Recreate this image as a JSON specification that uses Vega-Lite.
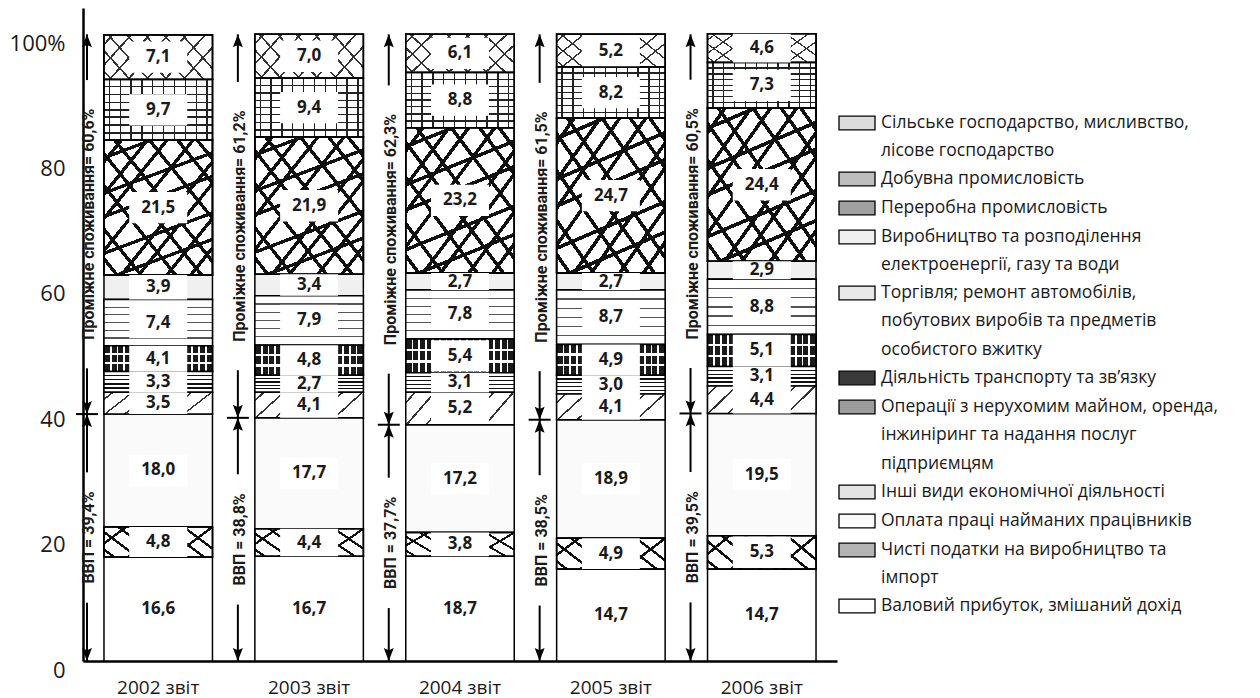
{
  "$schema": "https://vega.github.io/schema/vega-lite/v6.json",
  "width": 754,
  "height": 653,
  "autosize": {"type": "none"},
  "padding": {"left": 83, "top": 8, "right": 423, "bottom": 37},
  "background": "white",
  "config": {
    "view": {"stroke": null},
    "font": "Open Sans",
    "lineBreak": "\n",
    "style": {"guide-label": {"lineHeight": 28.4}}
  },
  "datasets": {
    "cats": [
      {"k": 0, "cat": "Сільське господарство, мисливство,\nлісове господарство"},
      {"k": 1, "cat": "Добувна промисловість"},
      {"k": 2, "cat": "Переробна промисловість"},
      {"k": 3, "cat": "Виробництво та розподілення\nелектроенергії, газу  та води"},
      {"k": 4, "cat": "Торгівля; ремонт автомобілів,\nпобутових виробів та предметів\nособистого вжитку"},
      {"k": 5, "cat": "Діяльність транспорту та зв’язку"},
      {"k": 6, "cat": "Операції з нерухомим майном, оренда,\nінжиніринг та надання послуг\nпідприємцям"},
      {"k": 7, "cat": "Інші види економічної діяльності"},
      {"k": 8, "cat": "Оплата праці найманих працівників"},
      {"k": 9, "cat": "Чисті податки на виробництво та\nімпорт"},
      {"k": 10, "cat": "Валовий прибуток, змішаний дохід"}
    ],
    "d": [
      {"year": "2002 звіт", "k": 0, "v": 7.1, "label": "7,1"},
      {"year": "2002 звіт", "k": 1, "v": 9.7, "label": "9,7"},
      {"year": "2002 звіт", "k": 2, "v": 21.5, "label": "21,5"},
      {"year": "2002 звіт", "k": 3, "v": 3.9, "label": "3,9"},
      {"year": "2002 звіт", "k": 4, "v": 7.4, "label": "7,4"},
      {"year": "2002 звіт", "k": 5, "v": 4.1, "label": "4,1"},
      {"year": "2002 звіт", "k": 6, "v": 3.3, "label": "3,3"},
      {"year": "2002 звіт", "k": 7, "v": 3.5, "label": "3,5"},
      {"year": "2002 звіт", "k": 8, "v": 18.0, "label": "18,0"},
      {"year": "2002 звіт", "k": 9, "v": 4.8, "label": "4,8"},
      {"year": "2002 звіт", "k": 10, "v": 16.6, "label": "16,6"},
      {"year": "2003 звіт", "k": 0, "v": 7.0, "label": "7,0"},
      {"year": "2003 звіт", "k": 1, "v": 9.4, "label": "9,4"},
      {"year": "2003 звіт", "k": 2, "v": 21.9, "label": "21,9"},
      {"year": "2003 звіт", "k": 3, "v": 3.4, "label": "3,4"},
      {"year": "2003 звіт", "k": 4, "v": 7.9, "label": "7,9"},
      {"year": "2003 звіт", "k": 5, "v": 4.8, "label": "4,8"},
      {"year": "2003 звіт", "k": 6, "v": 2.7, "label": "2,7"},
      {"year": "2003 звіт", "k": 7, "v": 4.1, "label": "4,1"},
      {"year": "2003 звіт", "k": 8, "v": 17.7, "label": "17,7"},
      {"year": "2003 звіт", "k": 9, "v": 4.4, "label": "4,4"},
      {"year": "2003 звіт", "k": 10, "v": 16.7, "label": "16,7"},
      {"year": "2004 звіт", "k": 0, "v": 6.1, "label": "6,1"},
      {"year": "2004 звіт", "k": 1, "v": 8.8, "label": "8,8"},
      {"year": "2004 звіт", "k": 2, "v": 23.2, "label": "23,2"},
      {"year": "2004 звіт", "k": 3, "v": 2.7, "label": "2,7"},
      {"year": "2004 звіт", "k": 4, "v": 7.8, "label": "7,8"},
      {"year": "2004 звіт", "k": 5, "v": 5.4, "label": "5,4"},
      {"year": "2004 звіт", "k": 6, "v": 3.1, "label": "3,1"},
      {"year": "2004 звіт", "k": 7, "v": 5.2, "label": "5,2"},
      {"year": "2004 звіт", "k": 8, "v": 17.2, "label": "17,2"},
      {"year": "2004 звіт", "k": 9, "v": 3.8, "label": "3,8"},
      {"year": "2004 звіт", "k": 10, "v": 16.7, "label": "18,7"},
      {"year": "2005 звіт", "k": 0, "v": 5.2, "label": "5,2"},
      {"year": "2005 звіт", "k": 1, "v": 8.2, "label": "8,2"},
      {"year": "2005 звіт", "k": 2, "v": 24.7, "label": "24,7"},
      {"year": "2005 звіт", "k": 3, "v": 2.7, "label": "2,7"},
      {"year": "2005 звіт", "k": 4, "v": 8.7, "label": "8,7"},
      {"year": "2005 звіт", "k": 5, "v": 4.9, "label": "4,9"},
      {"year": "2005 звіт", "k": 6, "v": 3.0, "label": "3,0"},
      {"year": "2005 звіт", "k": 7, "v": 4.1, "label": "4,1"},
      {"year": "2005 звіт", "k": 8, "v": 18.9, "label": "18,9"},
      {"year": "2005 звіт", "k": 9, "v": 4.9, "label": "4,9"},
      {"year": "2005 звіт", "k": 10, "v": 14.7, "label": "14,7"},
      {"year": "2006 звіт", "k": 0, "v": 4.6, "label": "4,6"},
      {"year": "2006 звіт", "k": 1, "v": 7.3, "label": "7,3"},
      {"year": "2006 звіт", "k": 2, "v": 24.4, "label": "24,4"},
      {"year": "2006 звіт", "k": 3, "v": 2.9, "label": "2,9"},
      {"year": "2006 звіт", "k": 4, "v": 8.8, "label": "8,8"},
      {"year": "2006 звіт", "k": 5, "v": 5.1, "label": "5,1"},
      {"year": "2006 звіт", "k": 6, "v": 3.1, "label": "3,1"},
      {"year": "2006 звіт", "k": 7, "v": 4.4, "label": "4,4"},
      {"year": "2006 звіт", "k": 8, "v": 19.5, "label": "19,5"},
      {"year": "2006 звіт", "k": 9, "v": 5.3, "label": "5,3"},
      {"year": "2006 звіт", "k": 10, "v": 14.7, "label": "14,7"}
    ],
    "ann": [
      {"year": "2002 звіт", "gdp": 39.4, "gdpText": "ВВП = 39,4%", "icText": "Проміжне споживання= 60,6%"},
      {"year": "2003 звіт", "gdp": 38.8, "gdpText": "ВВП = 38,8%", "icText": "Проміжне споживання= 61,2%"},
      {"year": "2004 звіт", "gdp": 37.7, "gdpText": "ВВП = 37,7%", "icText": "Проміжне споживання= 62,3%"},
      {"year": "2005 звіт", "gdp": 38.5, "gdpText": "ВВП = 38,5%", "icText": "Проміжне споживання= 61,5%"},
      {"year": "2006 звіт", "gdp": 39.5, "gdpText": "ВВП = 39,5%", "icText": "Проміжне споживання= 60,5%"}
    ]
  },
  "layer": [
    {
      "data": {"name": "d"},
      "transform": [
        {"lookup": "k", "from": {"data": {"name": "cats"}, "key": "k", "fields": ["cat"]}},
        {"stack": "v", "groupby": ["year"], "sort": [{"field": "k", "order": "descending"}], "as": ["y0", "y1"]},
        {"calculate": "(datum.y0 + datum.y1) / 2", "as": "mid"},
        {"calculate": "max(datum.y0, datum.mid - 2.5)", "as": "b0"},
        {"calculate": "min(datum.y1, datum.mid + 2.5)", "as": "b1"}
      ],
      "encoding": {
        "x": {
          "field": "year", "type": "nominal",
          "scale": {"paddingInner": 0.281, "paddingOuter": 0.139},
          "axis": {"title": null, "ticks": false, "labelAngle": 0, "domainColor": "#000", "domainWidth": 2.5, "labelFont": "Open Sans", "labelFontSize": 19, "labelColor": "#1a1a1a", "labelPadding": 17}
        }
      },
      "layer": [
        {
          "mark": {"type": "bar", "stroke": "#000", "strokeWidth": 1.5},
          "encoding": {
            "y": {
              "field": "y1", "type": "quantitative",
              "scale": {"domain": [0, 104.2], "nice": false, "zero": true},
              "axis": {"title": null, "values": [0, 20, 40, 60, 80, 100], "labelExpr": "datum.value == 100 ? '100%' : datum.label", "ticks": false, "grid": false, "domainColor": "#000", "domainWidth": 2.5, "labelFont": "Open Sans", "labelFontSize": 22, "labelColor": "#1a1a1a", "labelPadding": 18, "labelBaseline": "middle", "labelOffset": 9, "labelFlush": false}
            },
            "y2": {"field": "y0"},
            "fill": {
              "field": "cat", "type": "nominal",
              "sort": {"field": "k", "op": "min", "order": "ascending"},
              "scale": {"range": ["#dcdcdc", "#bdbdbd", "#a0a0a0", "#f0f0f0", "#e8e8e8", "#3a3a3a", "#9c9c9c", "#e4e4e4", "#fafafa", "#b4b4b4", "#ffffff"]},
              "legend": {
                "orient": "none", "legendX": 755, "legendY": 96, "title": null,
                "symbolType": "M-1,-0.38L1,-0.38L1,0.38L-1,0.38Z", "symbolSize": 1296,
                "symbolStrokeColor": "#000", "symbolStrokeWidth": 1.3,
                "labelFont": "Open Sans", "labelFontSize": 17.5, "labelColor": "#1a1a1a",
                "labelLimit": 500, "labelOffset": 5, "rowPadding": -0.9, "labelBaseline": "middle"
              }
            }
          }
        },
        {
          "transform": [{"filter": "datum.k == 0"}],
          "mark": {"type": "bar", "stroke": "#000", "strokeWidth": 1.5, "fill": {"gradient": "linear", "x1": 0, "y1": 1, "x2": 1, "y2": 0.63, "stops": [
            {"offset": 0, "color": "#fff"},
            {"offset": 0.051, "color": "#fff"}, {"offset": 0.051, "color": "#333"}, {"offset": 0.069, "color": "#333"}, {"offset": 0.069, "color": "#fff"},
            {"offset": 0.201, "color": "#fff"}, {"offset": 0.201, "color": "#333"}, {"offset": 0.219, "color": "#333"}, {"offset": 0.219, "color": "#fff"},
            {"offset": 0.351, "color": "#fff"}, {"offset": 0.351, "color": "#333"}, {"offset": 0.369, "color": "#333"}, {"offset": 0.369, "color": "#fff"},
            {"offset": 0.501, "color": "#fff"}, {"offset": 0.501, "color": "#333"}, {"offset": 0.519, "color": "#333"}, {"offset": 0.519, "color": "#fff"},
            {"offset": 0.651, "color": "#fff"}, {"offset": 0.651, "color": "#333"}, {"offset": 0.669, "color": "#333"}, {"offset": 0.669, "color": "#fff"},
            {"offset": 0.801, "color": "#fff"}, {"offset": 0.801, "color": "#333"}, {"offset": 0.819, "color": "#333"}, {"offset": 0.819, "color": "#fff"},
            {"offset": 0.951, "color": "#fff"}, {"offset": 0.951, "color": "#333"}, {"offset": 0.969, "color": "#333"}, {"offset": 0.969, "color": "#fff"},
            {"offset": 1, "color": "#fff"}
          ]}},
          "encoding": {"y": {"field": "y1", "type": "quantitative"}, "y2": {"field": "y0"}}
        },
        {
          "transform": [{"filter": "datum.k == 0"}],
          "mark": {"type": "bar", "stroke": "#000", "strokeWidth": 1.5, "fill": {"gradient": "linear", "x1": 0, "y1": 0, "x2": 1, "y2": 0.37, "stops": [
            {"offset": 0, "color": "rgba(255,255,255,0)"},
            {"offset": 0.061, "color": "rgba(255,255,255,0)"}, {"offset": 0.061, "color": "#333"}, {"offset": 0.079, "color": "#333"}, {"offset": 0.079, "color": "rgba(255,255,255,0)"},
            {"offset": 0.211, "color": "rgba(255,255,255,0)"}, {"offset": 0.211, "color": "#333"}, {"offset": 0.229, "color": "#333"}, {"offset": 0.229, "color": "rgba(255,255,255,0)"},
            {"offset": 0.361, "color": "rgba(255,255,255,0)"}, {"offset": 0.361, "color": "#333"}, {"offset": 0.379, "color": "#333"}, {"offset": 0.379, "color": "rgba(255,255,255,0)"},
            {"offset": 0.511, "color": "rgba(255,255,255,0)"}, {"offset": 0.511, "color": "#333"}, {"offset": 0.529, "color": "#333"}, {"offset": 0.529, "color": "rgba(255,255,255,0)"},
            {"offset": 0.661, "color": "rgba(255,255,255,0)"}, {"offset": 0.661, "color": "#333"}, {"offset": 0.679, "color": "#333"}, {"offset": 0.679, "color": "rgba(255,255,255,0)"},
            {"offset": 0.811, "color": "rgba(255,255,255,0)"}, {"offset": 0.811, "color": "#333"}, {"offset": 0.829, "color": "#333"}, {"offset": 0.829, "color": "rgba(255,255,255,0)"},
            {"offset": 0.961, "color": "rgba(255,255,255,0)"}, {"offset": 0.961, "color": "#333"}, {"offset": 0.979, "color": "#333"}, {"offset": 0.979, "color": "rgba(255,255,255,0)"},
            {"offset": 1, "color": "rgba(255,255,255,0)"}
          ]}},
          "encoding": {"y": {"field": "y1", "type": "quantitative"}, "y2": {"field": "y0"}}
        },
        {
          "transform": [{"filter": "datum.k == 1"}],
          "mark": {"type": "bar", "stroke": "#000", "strokeWidth": 1.5, "fill": {"gradient": "linear", "x1": 0, "y1": 0, "x2": 0, "y2": 1, "stops": [
            {"offset": 0, "color": "#fff"},
            {"offset": 0.108, "color": "#fff"}, {"offset": 0.108, "color": "#222"}, {"offset": 0.132, "color": "#222"}, {"offset": 0.132, "color": "#fff"},
            {"offset": 0.238, "color": "#fff"}, {"offset": 0.238, "color": "#222"}, {"offset": 0.262, "color": "#222"}, {"offset": 0.262, "color": "#fff"},
            {"offset": 0.368, "color": "#fff"}, {"offset": 0.368, "color": "#222"}, {"offset": 0.392, "color": "#222"}, {"offset": 0.392, "color": "#fff"},
            {"offset": 0.488, "color": "#fff"}, {"offset": 0.488, "color": "#222"}, {"offset": 0.512, "color": "#222"}, {"offset": 0.512, "color": "#fff"},
            {"offset": 0.608, "color": "#fff"}, {"offset": 0.608, "color": "#222"}, {"offset": 0.632, "color": "#222"}, {"offset": 0.632, "color": "#fff"},
            {"offset": 0.738, "color": "#fff"}, {"offset": 0.738, "color": "#222"}, {"offset": 0.762, "color": "#222"}, {"offset": 0.762, "color": "#fff"},
            {"offset": 0.868, "color": "#fff"}, {"offset": 0.868, "color": "#222"}, {"offset": 0.892, "color": "#222"}, {"offset": 0.892, "color": "#fff"},
            {"offset": 1, "color": "#fff"}
          ]}},
          "encoding": {"y": {"field": "y1", "type": "quantitative"}, "y2": {"field": "y0"}}
        },
        {
          "transform": [{"filter": "datum.k == 1"}],
          "mark": {"type": "bar", "stroke": "#000", "strokeWidth": 1.5, "fill": {"gradient": "linear", "x1": 0, "y1": 0, "x2": 1, "y2": 0, "stops": [
            {"offset": 0, "color": "rgba(255,255,255,0)"},
            {"offset": 0.044, "color": "rgba(255,255,255,0)"}, {"offset": 0.044, "color": "#222"}, {"offset": 0.056, "color": "#222"}, {"offset": 0.056, "color": "rgba(255,255,255,0)"},
            {"offset": 0.144, "color": "rgba(255,255,255,0)"}, {"offset": 0.144, "color": "#222"}, {"offset": 0.156, "color": "#222"}, {"offset": 0.156, "color": "rgba(255,255,255,0)"},
            {"offset": 0.244, "color": "rgba(255,255,255,0)"}, {"offset": 0.244, "color": "#222"}, {"offset": 0.256, "color": "#222"}, {"offset": 0.256, "color": "rgba(255,255,255,0)"},
            {"offset": 0.344, "color": "rgba(255,255,255,0)"}, {"offset": 0.344, "color": "#222"}, {"offset": 0.356, "color": "#222"}, {"offset": 0.356, "color": "rgba(255,255,255,0)"},
            {"offset": 0.444, "color": "rgba(255,255,255,0)"}, {"offset": 0.444, "color": "#222"}, {"offset": 0.456, "color": "#222"}, {"offset": 0.456, "color": "rgba(255,255,255,0)"},
            {"offset": 0.544, "color": "rgba(255,255,255,0)"}, {"offset": 0.544, "color": "#222"}, {"offset": 0.556, "color": "#222"}, {"offset": 0.556, "color": "rgba(255,255,255,0)"},
            {"offset": 0.644, "color": "rgba(255,255,255,0)"}, {"offset": 0.644, "color": "#222"}, {"offset": 0.656, "color": "#222"}, {"offset": 0.656, "color": "rgba(255,255,255,0)"},
            {"offset": 0.744, "color": "rgba(255,255,255,0)"}, {"offset": 0.744, "color": "#222"}, {"offset": 0.756, "color": "#222"}, {"offset": 0.756, "color": "rgba(255,255,255,0)"},
            {"offset": 0.844, "color": "rgba(255,255,255,0)"}, {"offset": 0.844, "color": "#222"}, {"offset": 0.856, "color": "#222"}, {"offset": 0.856, "color": "rgba(255,255,255,0)"},
            {"offset": 0.944, "color": "rgba(255,255,255,0)"}, {"offset": 0.944, "color": "#222"}, {"offset": 0.956, "color": "#222"}, {"offset": 0.956, "color": "rgba(255,255,255,0)"},
            {"offset": 1, "color": "rgba(255,255,255,0)"}
          ]}},
          "encoding": {"y": {"field": "y1", "type": "quantitative"}, "y2": {"field": "y0"}}
        },
        {
          "transform": [{"filter": "datum.k == 2"}],
          "mark": {"type": "bar", "stroke": "#000", "strokeWidth": 1.5, "fill": {"gradient": "linear", "x1": 0, "y1": 1, "x2": 1, "y2": 0, "stops": [
            {"offset": 0, "color": "#fff"},
            {"offset": 0.05, "color": "#fff"}, {"offset": 0.05, "color": "#111"}, {"offset": 0.07, "color": "#111"}, {"offset": 0.07, "color": "#fff"},
            {"offset": 0.16, "color": "#fff"}, {"offset": 0.16, "color": "#111"}, {"offset": 0.18, "color": "#111"}, {"offset": 0.18, "color": "#fff"},
            {"offset": 0.32, "color": "#fff"}, {"offset": 0.32, "color": "#111"}, {"offset": 0.34, "color": "#111"}, {"offset": 0.34, "color": "#fff"},
            {"offset": 0.44, "color": "#fff"}, {"offset": 0.44, "color": "#111"}, {"offset": 0.46, "color": "#111"}, {"offset": 0.46, "color": "#fff"},
            {"offset": 0.54, "color": "#fff"}, {"offset": 0.54, "color": "#111"}, {"offset": 0.56, "color": "#111"}, {"offset": 0.56, "color": "#fff"},
            {"offset": 0.70, "color": "#fff"}, {"offset": 0.70, "color": "#111"}, {"offset": 0.72, "color": "#111"}, {"offset": 0.72, "color": "#fff"},
            {"offset": 0.83, "color": "#fff"}, {"offset": 0.83, "color": "#111"}, {"offset": 0.85, "color": "#111"}, {"offset": 0.85, "color": "#fff"},
            {"offset": 0.92, "color": "#fff"}, {"offset": 0.92, "color": "#111"}, {"offset": 0.94, "color": "#111"}, {"offset": 0.94, "color": "#fff"},
            {"offset": 1, "color": "#fff"}
          ]}},
          "encoding": {"y": {"field": "y1", "type": "quantitative"}, "y2": {"field": "y0"}}
        },
        {
          "transform": [{"filter": "datum.k == 2"}],
          "mark": {"type": "bar", "stroke": "#000", "strokeWidth": 1.5, "fill": {"gradient": "linear", "x1": 0, "y1": 0, "x2": 1, "y2": 1, "stops": [
            {"offset": 0, "color": "rgba(255,255,255,0)"},
            {"offset": 0.07, "color": "rgba(255,255,255,0)"}, {"offset": 0.07, "color": "#111"}, {"offset": 0.09, "color": "#111"}, {"offset": 0.09, "color": "rgba(255,255,255,0)"},
            {"offset": 0.19, "color": "rgba(255,255,255,0)"}, {"offset": 0.19, "color": "#111"}, {"offset": 0.21, "color": "#111"}, {"offset": 0.21, "color": "rgba(255,255,255,0)"},
            {"offset": 0.28, "color": "rgba(255,255,255,0)"}, {"offset": 0.28, "color": "#111"}, {"offset": 0.30, "color": "#111"}, {"offset": 0.30, "color": "rgba(255,255,255,0)"},
            {"offset": 0.40, "color": "rgba(255,255,255,0)"}, {"offset": 0.40, "color": "#111"}, {"offset": 0.42, "color": "#111"}, {"offset": 0.42, "color": "rgba(255,255,255,0)"},
            {"offset": 0.57, "color": "rgba(255,255,255,0)"}, {"offset": 0.57, "color": "#111"}, {"offset": 0.59, "color": "#111"}, {"offset": 0.59, "color": "rgba(255,255,255,0)"},
            {"offset": 0.65, "color": "rgba(255,255,255,0)"}, {"offset": 0.65, "color": "#111"}, {"offset": 0.67, "color": "#111"}, {"offset": 0.67, "color": "rgba(255,255,255,0)"},
            {"offset": 0.78, "color": "rgba(255,255,255,0)"}, {"offset": 0.78, "color": "#111"}, {"offset": 0.80, "color": "#111"}, {"offset": 0.80, "color": "rgba(255,255,255,0)"},
            {"offset": 0.89, "color": "rgba(255,255,255,0)"}, {"offset": 0.89, "color": "#111"}, {"offset": 0.91, "color": "#111"}, {"offset": 0.91, "color": "rgba(255,255,255,0)"},
            {"offset": 1, "color": "rgba(255,255,255,0)"}
          ]}},
          "encoding": {"y": {"field": "y1", "type": "quantitative"}, "y2": {"field": "y0"}}
        },
        {
          "transform": [{"filter": "datum.k == 2"}],
          "mark": {"type": "bar", "stroke": "#000", "strokeWidth": 1.5, "fill": {"gradient": "linear", "x1": 0, "y1": 0, "x2": 0.3, "y2": 1, "stops": [
            {"offset": 0, "color": "rgba(255,255,255,0)"},
            {"offset": 0.108, "color": "rgba(255,255,255,0)"}, {"offset": 0.108, "color": "#111"}, {"offset": 0.132, "color": "#111"}, {"offset": 0.132, "color": "rgba(255,255,255,0)"},
            {"offset": 0.348, "color": "rgba(255,255,255,0)"}, {"offset": 0.348, "color": "#111"}, {"offset": 0.372, "color": "#111"}, {"offset": 0.372, "color": "rgba(255,255,255,0)"},
            {"offset": 0.508, "color": "rgba(255,255,255,0)"}, {"offset": 0.508, "color": "#111"}, {"offset": 0.532, "color": "#111"}, {"offset": 0.532, "color": "rgba(255,255,255,0)"},
            {"offset": 0.758, "color": "rgba(255,255,255,0)"}, {"offset": 0.758, "color": "#111"}, {"offset": 0.782, "color": "#111"}, {"offset": 0.782, "color": "rgba(255,255,255,0)"},
            {"offset": 0.938, "color": "rgba(255,255,255,0)"}, {"offset": 0.938, "color": "#111"}, {"offset": 0.962, "color": "#111"}, {"offset": 0.962, "color": "rgba(255,255,255,0)"},
            {"offset": 1, "color": "rgba(255,255,255,0)"}
          ]}},
          "encoding": {"y": {"field": "y1", "type": "quantitative"}, "y2": {"field": "y0"}}
        },
        {
          "transform": [{"filter": "datum.k == 4"}],
          "mark": {"type": "bar", "stroke": "#000", "strokeWidth": 1.5, "fill": {"gradient": "linear", "x1": 0, "y1": 0, "x2": 0, "y2": 1, "stops": [
            {"offset": 0, "color": "#fff"},
            {"offset": 0.155, "color": "#fff"}, {"offset": 0.155, "color": "#555"}, {"offset": 0.179, "color": "#555"}, {"offset": 0.179, "color": "#fff"},
            {"offset": 0.321, "color": "#fff"}, {"offset": 0.321, "color": "#555"}, {"offset": 0.345, "color": "#555"}, {"offset": 0.345, "color": "#fff"},
            {"offset": 0.488, "color": "#fff"}, {"offset": 0.488, "color": "#555"}, {"offset": 0.512, "color": "#555"}, {"offset": 0.512, "color": "#fff"},
            {"offset": 0.655, "color": "#fff"}, {"offset": 0.655, "color": "#555"}, {"offset": 0.679, "color": "#555"}, {"offset": 0.679, "color": "#fff"},
            {"offset": 0.821, "color": "#fff"}, {"offset": 0.821, "color": "#555"}, {"offset": 0.845, "color": "#555"}, {"offset": 0.845, "color": "#fff"},
            {"offset": 1, "color": "#fff"}
          ]}},
          "encoding": {"y": {"field": "y1", "type": "quantitative"}, "y2": {"field": "y0"}}
        },
        {
          "transform": [{"filter": "datum.k == 5"}],
          "mark": {"type": "bar", "stroke": "#000", "strokeWidth": 1.5, "fill": {"gradient": "linear", "x1": 0, "y1": 0, "x2": 0, "y2": 1, "stops": [
            {"offset": 0, "color": "#1a1a1a"},
            {"offset": 0.29, "color": "#1a1a1a"}, {"offset": 0.29, "color": "#fff"}, {"offset": 0.37, "color": "#fff"}, {"offset": 0.37, "color": "#1a1a1a"},
            {"offset": 0.63, "color": "#1a1a1a"}, {"offset": 0.63, "color": "#fff"}, {"offset": 0.71, "color": "#fff"}, {"offset": 0.71, "color": "#1a1a1a"},
            {"offset": 1, "color": "#1a1a1a"}
          ]}},
          "encoding": {"y": {"field": "y1", "type": "quantitative"}, "y2": {"field": "y0"}}
        },
        {
          "transform": [{"filter": "datum.k == 5"}],
          "mark": {"type": "bar", "stroke": "#000", "strokeWidth": 1.5, "fill": {"gradient": "linear", "x1": 0, "y1": 0, "x2": 1, "y2": 0, "stops": [
            {"offset": 0, "color": "rgba(255,255,255,0)"},
            {"offset": 0.0545, "color": "rgba(255,255,255,0)"}, {"offset": 0.0545, "color": "#fff"}, {"offset": 0.0705, "color": "#fff"}, {"offset": 0.0705, "color": "rgba(255,255,255,0)"},
            {"offset": 0.117, "color": "rgba(255,255,255,0)"}, {"offset": 0.117, "color": "#fff"}, {"offset": 0.133, "color": "#fff"}, {"offset": 0.133, "color": "rgba(255,255,255,0)"},
            {"offset": 0.1795, "color": "rgba(255,255,255,0)"}, {"offset": 0.1795, "color": "#fff"}, {"offset": 0.1955, "color": "#fff"}, {"offset": 0.1955, "color": "rgba(255,255,255,0)"},
            {"offset": 0.242, "color": "rgba(255,255,255,0)"}, {"offset": 0.242, "color": "#fff"}, {"offset": 0.258, "color": "#fff"}, {"offset": 0.258, "color": "rgba(255,255,255,0)"},
            {"offset": 0.3045, "color": "rgba(255,255,255,0)"}, {"offset": 0.3045, "color": "#fff"}, {"offset": 0.3205, "color": "#fff"}, {"offset": 0.3205, "color": "rgba(255,255,255,0)"},
            {"offset": 0.367, "color": "rgba(255,255,255,0)"}, {"offset": 0.367, "color": "#fff"}, {"offset": 0.383, "color": "#fff"}, {"offset": 0.383, "color": "rgba(255,255,255,0)"},
            {"offset": 0.4295, "color": "rgba(255,255,255,0)"}, {"offset": 0.4295, "color": "#fff"}, {"offset": 0.4455, "color": "#fff"}, {"offset": 0.4455, "color": "rgba(255,255,255,0)"},
            {"offset": 0.492, "color": "rgba(255,255,255,0)"}, {"offset": 0.492, "color": "#fff"}, {"offset": 0.508, "color": "#fff"}, {"offset": 0.508, "color": "rgba(255,255,255,0)"},
            {"offset": 0.5545, "color": "rgba(255,255,255,0)"}, {"offset": 0.5545, "color": "#fff"}, {"offset": 0.5705, "color": "#fff"}, {"offset": 0.5705, "color": "rgba(255,255,255,0)"},
            {"offset": 0.617, "color": "rgba(255,255,255,0)"}, {"offset": 0.617, "color": "#fff"}, {"offset": 0.633, "color": "#fff"}, {"offset": 0.633, "color": "rgba(255,255,255,0)"},
            {"offset": 0.6795, "color": "rgba(255,255,255,0)"}, {"offset": 0.6795, "color": "#fff"}, {"offset": 0.6955, "color": "#fff"}, {"offset": 0.6955, "color": "rgba(255,255,255,0)"},
            {"offset": 0.742, "color": "rgba(255,255,255,0)"}, {"offset": 0.742, "color": "#fff"}, {"offset": 0.758, "color": "#fff"}, {"offset": 0.758, "color": "rgba(255,255,255,0)"},
            {"offset": 0.8045, "color": "rgba(255,255,255,0)"}, {"offset": 0.8045, "color": "#fff"}, {"offset": 0.8205, "color": "#fff"}, {"offset": 0.8205, "color": "rgba(255,255,255,0)"},
            {"offset": 0.867, "color": "rgba(255,255,255,0)"}, {"offset": 0.867, "color": "#fff"}, {"offset": 0.883, "color": "#fff"}, {"offset": 0.883, "color": "rgba(255,255,255,0)"},
            {"offset": 0.9295, "color": "rgba(255,255,255,0)"}, {"offset": 0.9295, "color": "#fff"}, {"offset": 0.9455, "color": "#fff"}, {"offset": 0.9455, "color": "rgba(255,255,255,0)"},
            {"offset": 1, "color": "rgba(255,255,255,0)"}
          ]}},
          "encoding": {"y": {"field": "y1", "type": "quantitative"}, "y2": {"field": "y0"}}
        },
        {
          "transform": [{"filter": "datum.k == 6"}],
          "mark": {"type": "bar", "stroke": "#000", "strokeWidth": 1.5, "fill": {"gradient": "linear", "x1": 0, "y1": 0, "x2": 0, "y2": 1, "stops": [
            {"offset": 0, "color": "#fff"},
            {"offset": 0.165, "color": "#fff"}, {"offset": 0.165, "color": "#111"}, {"offset": 0.235, "color": "#111"}, {"offset": 0.235, "color": "#fff"},
            {"offset": 0.365, "color": "#fff"}, {"offset": 0.365, "color": "#111"}, {"offset": 0.435, "color": "#111"}, {"offset": 0.435, "color": "#fff"},
            {"offset": 0.565, "color": "#fff"}, {"offset": 0.565, "color": "#111"}, {"offset": 0.635, "color": "#111"}, {"offset": 0.635, "color": "#fff"},
            {"offset": 0.765, "color": "#fff"}, {"offset": 0.765, "color": "#111"}, {"offset": 0.835, "color": "#111"}, {"offset": 0.835, "color": "#fff"},
            {"offset": 1, "color": "#fff"}
          ]}},
          "encoding": {"y": {"field": "y1", "type": "quantitative"}, "y2": {"field": "y0"}}
        },
        {
          "transform": [{"filter": "datum.k == 7"}],
          "mark": {"type": "bar", "stroke": "#000", "strokeWidth": 1.5, "fill": {"gradient": "linear", "x1": 0, "y1": 0, "x2": 1, "y2": 0.26, "stops": [
            {"offset": 0, "color": "#fff"},
            {"offset": 0.07, "color": "#fff"}, {"offset": 0.07, "color": "#333"}, {"offset": 0.09, "color": "#333"}, {"offset": 0.09, "color": "#fff"},
            {"offset": 0.24, "color": "#fff"}, {"offset": 0.24, "color": "#333"}, {"offset": 0.26, "color": "#333"}, {"offset": 0.26, "color": "#fff"},
            {"offset": 0.41, "color": "#fff"}, {"offset": 0.41, "color": "#333"}, {"offset": 0.43, "color": "#333"}, {"offset": 0.43, "color": "#fff"},
            {"offset": 0.58, "color": "#fff"}, {"offset": 0.58, "color": "#333"}, {"offset": 0.60, "color": "#333"}, {"offset": 0.60, "color": "#fff"},
            {"offset": 0.75, "color": "#fff"}, {"offset": 0.75, "color": "#333"}, {"offset": 0.77, "color": "#333"}, {"offset": 0.77, "color": "#fff"},
            {"offset": 0.92, "color": "#fff"}, {"offset": 0.92, "color": "#333"}, {"offset": 0.94, "color": "#333"}, {"offset": 0.94, "color": "#fff"},
            {"offset": 1, "color": "#fff"}
          ]}},
          "encoding": {"y": {"field": "y1", "type": "quantitative"}, "y2": {"field": "y0"}}
        },
        {
          "transform": [{"filter": "datum.k == 9"}],
          "mark": {"type": "bar", "stroke": "#000", "strokeWidth": 1.5, "fill": {"gradient": "linear", "x1": 0, "y1": 1, "x2": 1, "y2": 0.63, "stops": [
            {"offset": 0, "color": "#fff"},
            {"offset": 0.064, "color": "#fff"}, {"offset": 0.064, "color": "#111"}, {"offset": 0.096, "color": "#111"}, {"offset": 0.096, "color": "#fff"},
            {"offset": 0.254, "color": "#fff"}, {"offset": 0.254, "color": "#111"}, {"offset": 0.286, "color": "#111"}, {"offset": 0.286, "color": "#fff"},
            {"offset": 0.424, "color": "#fff"}, {"offset": 0.424, "color": "#111"}, {"offset": 0.456, "color": "#111"}, {"offset": 0.456, "color": "#fff"},
            {"offset": 0.614, "color": "#fff"}, {"offset": 0.614, "color": "#111"}, {"offset": 0.646, "color": "#111"}, {"offset": 0.646, "color": "#fff"},
            {"offset": 0.794, "color": "#fff"}, {"offset": 0.794, "color": "#111"}, {"offset": 0.826, "color": "#111"}, {"offset": 0.826, "color": "#fff"},
            {"offset": 0.954, "color": "#fff"}, {"offset": 0.954, "color": "#111"}, {"offset": 0.986, "color": "#111"}, {"offset": 0.986, "color": "#fff"},
            {"offset": 1, "color": "#fff"}
          ]}},
          "encoding": {"y": {"field": "y1", "type": "quantitative"}, "y2": {"field": "y0"}}
        },
        {
          "transform": [{"filter": "datum.k == 9"}],
          "mark": {"type": "bar", "stroke": "#000", "strokeWidth": 1.5, "fill": {"gradient": "linear", "x1": 0, "y1": 0, "x2": 1, "y2": 0.37, "stops": [
            {"offset": 0, "color": "rgba(255,255,255,0)"},
            {"offset": 0.164, "color": "rgba(255,255,255,0)"}, {"offset": 0.164, "color": "#111"}, {"offset": 0.196, "color": "#111"}, {"offset": 0.196, "color": "rgba(255,255,255,0)"},
            {"offset": 0.504, "color": "rgba(255,255,255,0)"}, {"offset": 0.504, "color": "#111"}, {"offset": 0.536, "color": "#111"}, {"offset": 0.536, "color": "rgba(255,255,255,0)"},
            {"offset": 0.864, "color": "rgba(255,255,255,0)"}, {"offset": 0.864, "color": "#111"}, {"offset": 0.896, "color": "#111"}, {"offset": 0.896, "color": "rgba(255,255,255,0)"},
            {"offset": 1, "color": "rgba(255,255,255,0)"}
          ]}},
          "encoding": {"y": {"field": "y1", "type": "quantitative"}, "y2": {"field": "y0"}}
        },
        {
          "mark": {"type": "bar", "width": 58, "fill": "#fff", "strokeWidth": 0},
          "encoding": {
            "y": {"field": "b1", "type": "quantitative"},
            "y2": {"field": "b0"}
          }
        },
        {
          "mark": {"type": "text", "font": "Open Sans", "fontWeight": "bold", "fontSize": 17, "color": "#1a1a1a", "baseline": "middle", "align": "center"},
          "encoding": {
            "y": {"field": "mid", "type": "quantitative"},
            "text": {"field": "label"}
          }
        }
      ]
    },
    {
      "data": {"name": "ann"},
      "transform": [
        {"calculate": "(datum.gdp + 100) / 2", "as": "mu"},
        {"calculate": "datum.gdp / 2", "as": "ml"},
        {"calculate": "datum.mu - 23", "as": "u1"},
        {"calculate": "datum.mu + 23", "as": "u2"},
        {"calculate": "datum.ml - 10.4", "as": "l1"},
        {"calculate": "datum.ml + 10.4", "as": "l2"}
      ],
      "encoding": {"x": {"field": "year", "type": "nominal", "bandPosition": 0}},
      "layer": [
        {
          "mark": {"type": "rule", "strokeWidth": 2, "color": "#000", "xOffset": -17},
          "encoding": {"y": {"field": "gdp", "type": "quantitative"}, "y2": {"field": "u1"}}
        },
        {
          "mark": {"type": "rule", "strokeWidth": 2, "color": "#000", "xOffset": -17},
          "encoding": {"y": {"field": "u2", "type": "quantitative"}, "y2": {"datum": 100}}
        },
        {
          "mark": {"type": "rule", "strokeWidth": 2, "color": "#000", "xOffset": -17},
          "encoding": {"y": {"field": "l1", "type": "quantitative"}, "y2": {"datum": 0}}
        },
        {
          "mark": {"type": "rule", "strokeWidth": 2, "color": "#000", "xOffset": -17},
          "encoding": {"y": {"field": "l2", "type": "quantitative"}, "y2": {"field": "gdp"}}
        },
        {
          "mark": {"type": "point", "shape": "M0,0L-0.42,1.1L0,0.9L0.42,1.1Z", "size": 560, "filled": true, "color": "#000", "opacity": 1, "strokeWidth": 0, "xOffset": -17},
          "encoding": {"y": {"datum": 100, "type": "quantitative"}}
        },
        {
          "mark": {"type": "point", "shape": "M0,0L-0.42,1.1L0,0.9L0.42,1.1Z", "size": 560, "filled": true, "color": "#000", "opacity": 1, "strokeWidth": 0, "xOffset": -17},
          "encoding": {"y": {"field": "gdp", "type": "quantitative"}}
        },
        {
          "mark": {"type": "point", "shape": "M0,0L-0.42,-1.1L0,-0.9L0.42,-1.1Z", "size": 560, "filled": true, "color": "#000", "opacity": 1, "strokeWidth": 0, "xOffset": -17},
          "encoding": {"y": {"field": "gdp", "type": "quantitative"}}
        },
        {
          "mark": {"type": "point", "shape": "M0,0L-0.42,-1.1L0,-0.9L0.42,-1.1Z", "size": 560, "filled": true, "color": "#000", "opacity": 1, "strokeWidth": 0, "xOffset": -17},
          "encoding": {"y": {"datum": 0, "type": "quantitative"}}
        },
        {
          "mark": {"type": "point", "shape": "M-1,0L1,0", "size": 484, "filled": false, "stroke": "#000", "strokeWidth": 2, "opacity": 1, "xOffset": -17},
          "encoding": {"y": {"field": "gdp", "type": "quantitative"}}
        },
        {
          "mark": {"type": "text", "angle": 270, "font": "Roboto", "fontWeight": "bold", "fontSize": 16, "color": "#1a1a1a", "baseline": "middle", "align": "center", "xOffset": -15},
          "encoding": {"y": {"field": "mu", "type": "quantitative"}, "text": {"field": "icText"}}
        },
        {
          "mark": {"type": "text", "angle": 270, "font": "Roboto", "fontWeight": "bold", "fontSize": 16, "color": "#1a1a1a", "baseline": "middle", "align": "center", "xOffset": -15},
          "encoding": {"y": {"field": "ml", "type": "quantitative"}, "text": {"field": "gdpText"}}
        }
      ]
    }
  ]
}
